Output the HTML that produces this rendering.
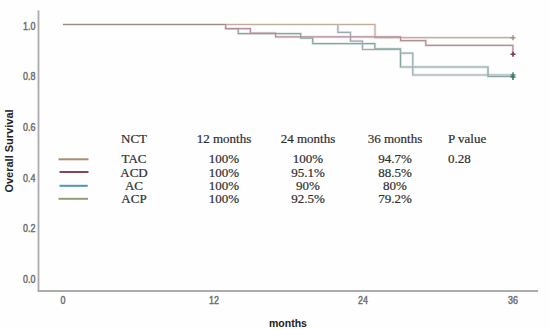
<!DOCTYPE html>
<html><head><meta charset="utf-8">
<style>
html,body{margin:0;padding:0;background:#fefefe;}
body{width:550px;height:330px;position:relative;overflow:hidden;font-family:"Liberation Sans",sans-serif;}
.yl{position:absolute;left:0;width:35.5px;text-align:right;font-size:10.5px;color:#6e6e6e;line-height:10px;-webkit-text-stroke:0.45px #6e6e6e;transform:scaleX(0.85);transform-origin:35.5px 0;}
.xl{position:absolute;width:30px;text-align:center;font-size:10.5px;color:#6e6e6e;line-height:10px;-webkit-text-stroke:0.45px #6e6e6e;transform:scaleX(0.85);}
.t{position:absolute;font-family:"Liberation Serif",serif;font-size:13px;color:#2e2e2e;-webkit-text-stroke:0.2px #2e2e2e;line-height:13px;white-space:nowrap;}
.c{text-align:center;width:80px;}
#ytitle{position:absolute;left:-36px;top:144.5px;width:90px;height:12px;text-align:center;font-weight:bold;font-size:11px;line-height:12px;color:#222;transform:rotate(-90deg);white-space:nowrap;}
#xtitle{position:absolute;left:258px;top:316.5px;width:60px;text-align:center;font-weight:bold;font-size:10.5px;line-height:12px;color:#222;}
svg{position:absolute;left:0;top:0;}
</style></head><body>
<svg width="550" height="330" viewBox="0 0 550 330">
  <line x1="38.5" y1="10.3" x2="38.5" y2="291" stroke="#acacac" stroke-width="1.8"/>
  <line x1="37.6" y1="291" x2="538" y2="291" stroke="#acacac" stroke-width="1.8"/>
  <g fill="none" stroke-width="2.8" opacity="0.22">
    <polyline stroke="#86a69e" points="63,24.5 225.6,24.5 225.6,28.6 238.2,28.6 238.2,33.6 300.7,33.6 300.7,38.2 312.7,38.2 312.7,43.6 374.9,43.6 374.9,48.8 400.5,48.8 400.5,67 488,67 488,76.5 513,76.5"/>
    <polyline stroke="#9aaaae" points="63,24.5 337.9,24.5 337.9,32.3 350.5,32.3 350.5,41.1 362.5,41.1 362.5,49.5 400.5,49.5 400.5,53.2 412.8,53.2 412.8,75 513,75"/>
    <polyline stroke="#c0ae9a" points="63,24.5 375,24.5 375,37.6 513,37.6"/>
    <polyline stroke="#b48c9a" points="63,24.5 225.6,24.5 225.6,28.6 250.4,28.6 250.4,33.2 275.6,33.2 275.6,36.8 400.6,36.8 400.6,40.7 425.8,40.7 425.8,45.3 512.9,45.3 512.9,54"/>
  </g>
  <g fill="none" stroke-width="1.2">
    <polyline stroke="#86a69e" points="63,24.5 225.6,24.5 225.6,28.6 238.2,28.6 238.2,33.6 300.7,33.6 300.7,38.2 312.7,38.2 312.7,43.6 374.9,43.6 374.9,48.8 400.5,48.8 400.5,67 488,67 488,76.5 513,76.5"/>
    <polyline stroke="#9aaaae" points="63,24.5 337.9,24.5 337.9,32.3 350.5,32.3 350.5,41.1 362.5,41.1 362.5,49.5 400.5,49.5 400.5,53.2 412.8,53.2 412.8,75 513,75"/>
    <polyline stroke="#c0ae9a" points="63,24.5 375,24.5 375,37.6 513,37.6"/>
    <polyline stroke="#b48c9a" points="63,24.5 225.6,24.5 225.6,28.6 250.4,28.6 250.4,33.2 275.6,33.2 275.6,36.8 400.6,36.8 400.6,40.7 425.8,40.7 425.8,45.3 512.9,45.3 512.9,54"/>
  </g>
  <line x1="63" y1="24.5" x2="225.6" y2="24.5" stroke="#9c8a7c" stroke-width="1.2"/>
  <g stroke-width="1.6">
    <path stroke="#a89480" d="M510.5 37.8h5M513 35.3v5"/>
    <path stroke="#7a3a50" d="M510.5 54.2h5M513 51.7v5"/>
    <path stroke="#4a8a88" d="M510.5 75h5M513 72.3v5"/>
    <path stroke="#3a7a68" d="M510.5 77h5M513 74.5v5.5"/>
  </g>
  <g stroke-width="2">
    <line x1="58.5" y1="159.3" x2="88.5" y2="159.3" stroke="#a68e70"/>
    <line x1="59.5" y1="172" x2="88.5" y2="172" stroke="#8c4454"/>
    <line x1="59.5" y1="185.8" x2="87.7" y2="185.8" stroke="#4e98ae"/>
    <line x1="58.5" y1="198.8" x2="88" y2="198.8" stroke="#90a076"/>
  </g>
</svg>
<div class="yl" style="top:21px">1.0</div>
<div class="yl" style="top:71px">0.8</div>
<div class="yl" style="top:122px">0.6</div>
<div class="yl" style="top:173px">0.4</div>
<div class="yl" style="top:223px">0.2</div>
<div class="yl" style="top:274px">0.0</div>
<div class="xl" style="left:48px;top:295px">0</div>
<div class="xl" style="left:198.5px;top:295px">12</div>
<div class="xl" style="left:348px;top:295px">24</div>
<div class="xl" style="left:498px;top:295px">36</div>
<div id="ytitle">Overall Survival</div>
<div id="xtitle">months</div>

<div class="t c" style="left:94px;top:132px">NCT</div>
<div class="t c" style="left:94px;top:152px">TAC</div>
<div class="t c" style="left:94px;top:166px">ACD</div>
<div class="t c" style="left:94px;top:179px">AC</div>
<div class="t c" style="left:94px;top:192px">ACP</div>

<div class="t c" style="left:184px;top:132px">12 months</div>
<div class="t c" style="left:184px;top:152px">100%</div>
<div class="t c" style="left:184px;top:166px">100%</div>
<div class="t c" style="left:184px;top:179px">100%</div>
<div class="t c" style="left:184px;top:192px">100%</div>

<div class="t c" style="left:268px;top:132px">24 months</div>
<div class="t c" style="left:268px;top:152px">100%</div>
<div class="t c" style="left:268px;top:166px">95.1%</div>
<div class="t c" style="left:268px;top:179px">90%</div>
<div class="t c" style="left:268px;top:192px">92.5%</div>

<div class="t c" style="left:355px;top:132px">36 months</div>
<div class="t c" style="left:355px;top:152px">94.7%</div>
<div class="t c" style="left:355px;top:166px">88.5%</div>
<div class="t c" style="left:355px;top:179px">80%</div>
<div class="t c" style="left:355px;top:192px">79.2%</div>

<div class="t" style="left:448px;top:132px">P value</div>
<div class="t" style="left:448px;top:152px">0.28</div>
</body></html>
